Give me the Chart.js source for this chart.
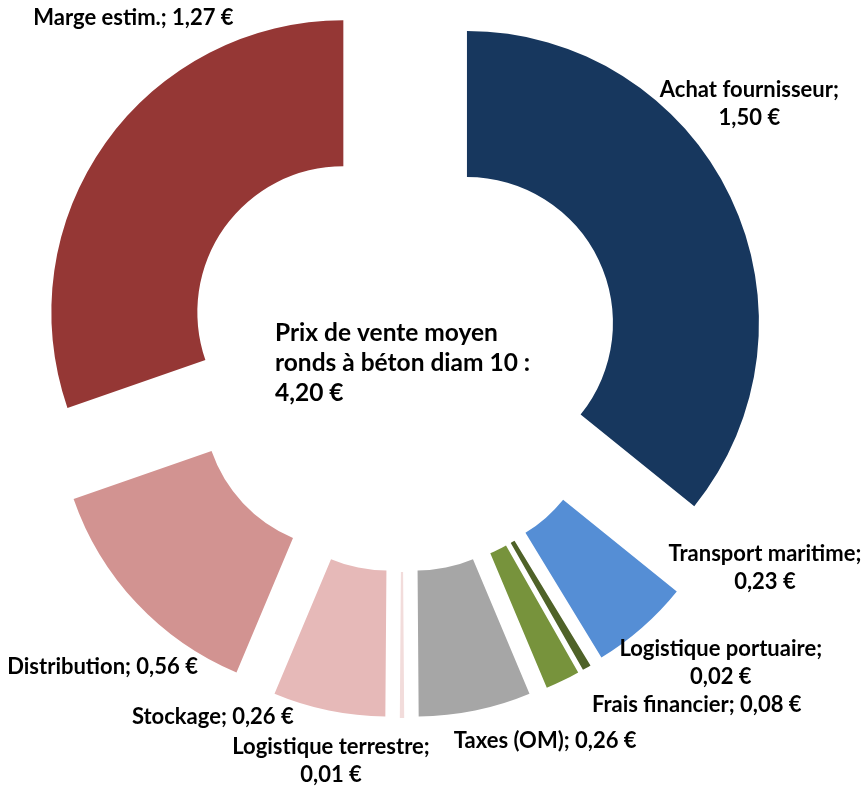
<!DOCTYPE html>
<html lang="fr">
<head>
<meta charset="utf-8">
<title>Prix de vente moyen – ronds à béton diam 10</title>
<script src="https://cdn.jsdelivr.net/npm/chart.js@4.4.1/dist/chart.umd.min.js"></script>
<style>
  html, body { margin: 0; padding: 0; background: #fff; }
  #wrap { position: relative; width: 868px; height: 788px; }
</style>
</head>
<body>
<div id="wrap"><canvas id="chart"></canvas></div>
<script>
// cost breakdown, clockwise from 12 o'clock
const categories = ['Achat fournisseur', 'Transport maritime', 'Logistique portuaire', 'Frais financier',
  'Taxes (OM)', 'Logistique terrestre', 'Stockage', 'Distribution', 'Marge estim.'];
const values = [1.50, 0.23, 0.02, 0.08, 0.26, 0.01, 0.26, 0.56, 1.27];
const colors = ['#17375E', '#558ED5', '#4F6228', '#77933C', '#A6A6A6', '#F2DCDB', '#E6B9B8', '#D29391', '#953735'];
const centerLines = ['Prix de vente moyen', 'ronds à béton diam 10 :', '4,20 €'];

const EXPLODE = 72;   // px each slice is pushed out along its bisector (Excel-style explosion)
const RADIUS = 292;
const LABEL_FONT = 'bold 22px Lato';
const CENTER_FONT = 'bold 24.5px Lato';
const LINE = 28;

// where each data label sits, relative to the outer middle of its exploded slice
const labelPlacement = [
  { dx: 19, dy: -100, wrap: true },
  { dx: 123, dy: -67, wrap: true },
  { dx: 134, dy: -12, wrap: true },
  { dx: 134, dy: 31, wrap: false },
  { dx: 70, dy: 37, wrap: false },
  { dx: -71, dy: 36, wrap: true },
  { dx: -116, dy: 13, wrap: false },
  { dx: -34, dy: 71, wrap: false },
  { dx: 28, dy: -118, wrap: false },
];

const euro = v => v.toFixed(2).replace('.', ',') + ' €';

// Chart.js' own `offset` also trims thin arcs away, so translate each arc ourselves
class ExplodedDoughnutController extends Chart.DoughnutController {
  draw() {
    const ctx = this._ctx;
    const area = this.chart.chartArea;
    for (const arc of this._cachedMeta.data) {
      if (arc.hidden) continue;
      const mid = (arc.startAngle + arc.endAngle) / 2;
      ctx.save();
      ctx.translate(Math.cos(mid) * EXPLODE, Math.sin(mid) * EXPLODE);
      arc.draw(ctx, area);
      ctx.restore();
    }
  }
}
ExplodedDoughnutController.id = 'explodedDoughnut';
ExplodedDoughnutController.defaults = Chart.DoughnutController.defaults;
ExplodedDoughnutController.overrides = Chart.DoughnutController.overrides;
Chart.register(ExplodedDoughnutController);

const labelPlugin = {
  id: 'sliceLabels',
  afterDatasetsDraw(chart) {
    const { ctx } = chart;
    const arcs = chart.getDatasetMeta(0).data;
    ctx.save();
    ctx.fillStyle = '#000';
    ctx.textBaseline = 'alphabetic';
    ctx.font = LABEL_FONT;
    ctx.textAlign = 'center';
    arcs.forEach((arc, i) => {
      const mid = (arc.startAngle + arc.endAngle) / 2;
      const r = arc.outerRadius + EXPLODE;
      const ax = arc.x + Math.cos(mid) * r;
      const ay = arc.y + Math.sin(mid) * r;
      const p = labelPlacement[i];
      const lines = p.wrap
        ? [categories[i] + ';', euro(values[i])]
        : [categories[i] + '; ' + euro(values[i])];
      lines.forEach((txt, k) => ctx.fillText(txt, ax + p.dx, ay + p.dy + k * LINE));
    });
    // text in the hole
    ctx.font = CENTER_FONT;
    ctx.textAlign = 'left';
    const c = arcs[0];
    centerLines.forEach((txt, k) => ctx.fillText(txt, c.x - 127, c.y - 13 + k * 30));
    ctx.restore();
  }
};

new Chart(document.getElementById('chart'), {
  type: 'explodedDoughnut',
  data: {
    labels: categories,
    datasets: [{
      data: values,
      backgroundColor: colors,
      borderWidth: 0,
      hoverOffset: 0,
      clip: false,
    }],
  },
  options: {
    responsive: true,
    maintainAspectRatio: false,
    animation: false,
    events: [],
    radius: RADIUS,
    cutout: '50%',
    layout: { padding: { left: 0, top: 0, right: 64, bottom: 80 } },
    plugins: {
      legend: { display: false },
      tooltip: { enabled: false },
    },
  },
  plugins: [labelPlugin],
});
</script>
</body>
</html>
